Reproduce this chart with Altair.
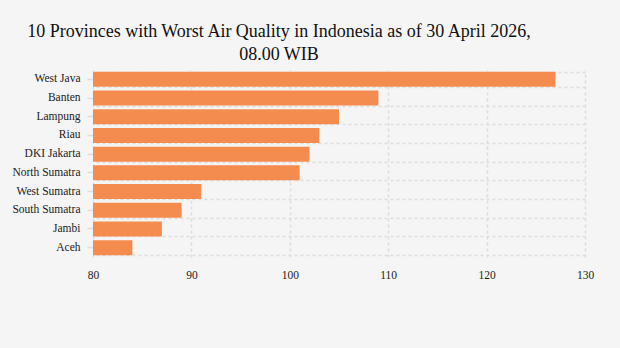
import altair as alt
import pandas as pd

provinces = ["West Java", "Banten", "Lampung", "Riau", "DKI Jakarta",
             "North Sumatra", "West Sumatra", "South Sumatra", "Jambi", "Aceh"]
values = [127, 109, 105, 103, 102, 101, 91, 89, 87, 84]
x_ticks = [80, 90, 100, 110, 120, 130]

df = pd.DataFrame({"province": provinces, "aqi": values})

FONT = "Liberation Serif"
y_sort = provinces

x_enc = alt.X("aqi:Q", scale=alt.Scale(domain=[80, 130], nice=False, zero=False),
              axis=alt.Axis(values=x_ticks, title=None, grid=True, gridDash=[3, 3],
                            gridColor="#dddddd", gridWidth=1.5, domain=False, ticks=False,
                            labelPadding=12, labelFlush=False, labelFont=FONT,
                            labelFontSize=11.5, labelColor="#222222"))

bars = alt.Chart(df).mark_bar(color="#f48c4f", clip=True).encode(
    x=x_enc,
    y=alt.Y("province:N", sort=y_sort, scale=alt.Scale(paddingInner=0.2, paddingOuter=0.1),
            axis=alt.Axis(orient="left", title=None, grid=False, domain=False, ticks=True,
                          tickColor="#dddddd", tickWidth=1.5, tickSize=6, labelPadding=7,
                          labelFont=FONT, labelFontSize=11.5, labelColor="#222222")),
)

grid = alt.Chart(df).mark_bar(opacity=0, clip=True).encode(
    x=x_enc,
    y=alt.Y("province:N", sort=y_sort,
            axis=alt.Axis(orient="right", title=None, grid=True, gridDash=[3, 3],
                          gridColor="#dddddd", gridWidth=1.5, tickBand="extent",
                          labels=False, ticks=False, domain=False)),
)

chart = alt.layer(grid, bars).resolve_axis(y="independent").properties(
    width=492, height=187,
    background="#f5f5f5",
    padding={"left": 93, "top": 70, "right": 35, "bottom": 91},
    autosize=alt.AutoSizeParams(type="none"),
    title=alt.TitleParams(
        text=["10 Provinces with Worst Air Quality in Indonesia as of 30 April 2026,",
              "08.00 WIB"],
        font=FONT, fontSize=18, fontWeight="normal", color="#111111",
        anchor="middle", frame="group", dx=-60, offset=6, lineHeight=23,
    ),
).configure_view(stroke=None).configure_axis(labelFont=FONT)

chart.save("out.html", embed_options={"renderer": "svg", "actions": False})
